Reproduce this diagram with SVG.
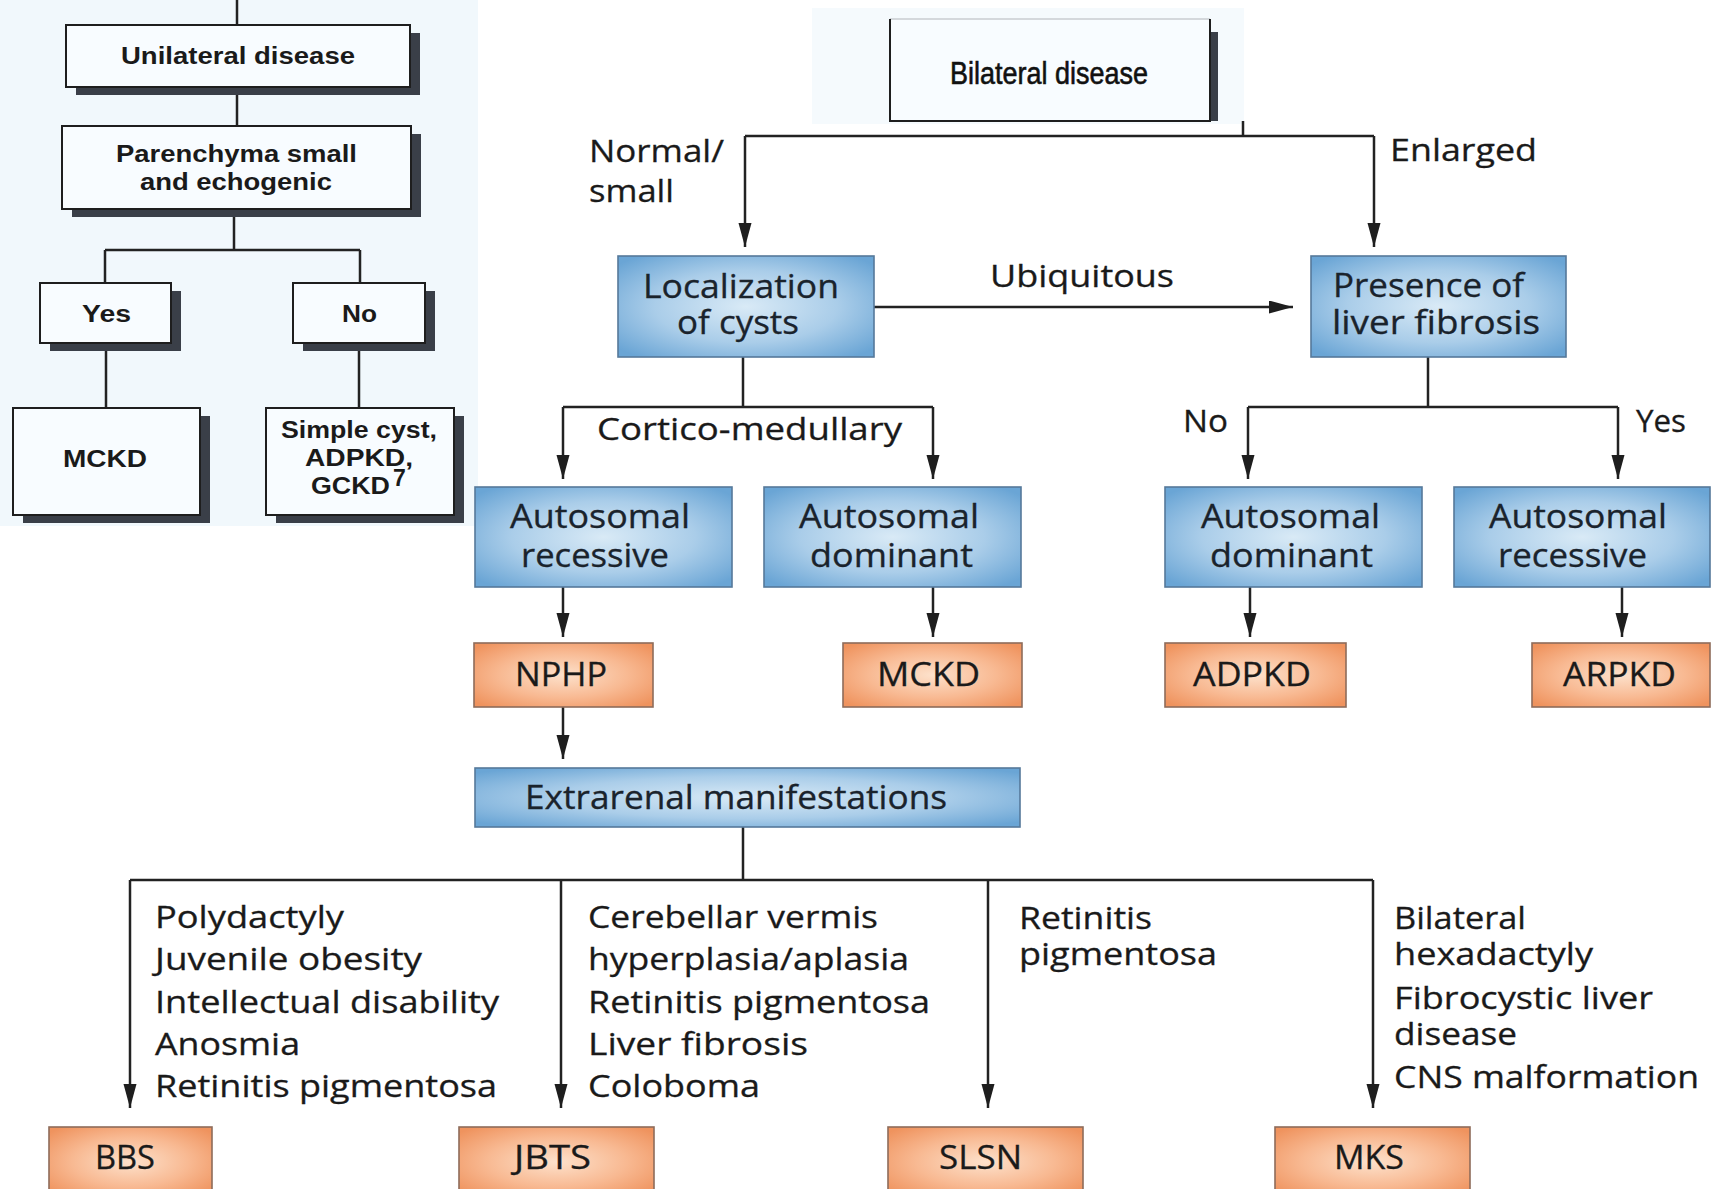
<svg xmlns="http://www.w3.org/2000/svg" width="1719" height="1189" viewBox="0 0 1719 1189">
  <defs>
    <radialGradient id="gBlue" cx="50%" cy="50%" r="65%">
      <stop offset="0%" stop-color="#d9eaf6"/>
      <stop offset="55%" stop-color="#aacde9"/>
      <stop offset="100%" stop-color="#6aa5d5"/>
    </radialGradient>
    <radialGradient id="gOrange" cx="50%" cy="50%" r="65%">
      <stop offset="0%" stop-color="#fde1cb"/>
      <stop offset="55%" stop-color="#f8b992"/>
      <stop offset="100%" stop-color="#ef935e"/>
    </radialGradient>
    <marker id="arrow" markerUnits="userSpaceOnUse" markerWidth="26" markerHeight="14" refX="24" refY="6.5" orient="auto">
      <path d="M0,0 L24,6.5 L0,13 Z" fill="#1e1e1e"/>
    </marker>
    <style>
      .bg { fill: #ffffff; }
      .panel { fill: #f1f8fc; }
      .wbox { fill: #f8fcff; stroke: #1e1e1e; stroke-width: 2; }
      .shadow { fill: #3a3f48; }
      .blue { fill: url(#gBlue); stroke: #56799a; stroke-width: 1.6; }
      .orange { fill: url(#gOrange); stroke: #8e6c5a; stroke-width: 1.6; }
      .ln { fill: none; stroke: #222222; stroke-width: 2.5; }
      .arr { fill: none; stroke: #222222; stroke-width: 2.5; marker-end: url(#arrow); }
      .lt { font-family: "Liberation Sans", Arial, sans-serif; font-weight: bold; font-size: 23px; fill: #1a1a1a; }
      .hd { font-family: "Liberation Sans", Arial, sans-serif; font-size: 31px; fill: #111111; stroke: #111111; stroke-width: 0.6; }
      .t { font-family: "Open Sans", "Noto Sans", sans-serif; font-size: 31px; fill: #1a1a1a; stroke: #1a1a1a; stroke-width: 0.3; }
      .bt { font-family: "Open Sans", "Noto Sans", sans-serif; font-size: 32px; fill: #1a232c; stroke: #1a232c; stroke-width: 0.3; }
      .ot { font-family: "Open Sans", "Noto Sans", sans-serif; font-size: 33px; fill: #1a1a1a; stroke: #1a1a1a; stroke-width: 0.3; }
    </style>
  </defs>

  <!-- canvas and faint panel tints -->
  <rect class="bg" x="0" y="0" width="1719" height="1189"/>
  <rect class="panel" x="0" y="0" width="478" height="526"/>
  <rect x="812" y="8" width="432" height="116" fill="#f5fafd"/>

  <!-- connectors -->
  <g id="connectors">
    <!-- unilateral branch -->
    <path class="ln" d="M237,0 V25"/>
    <path class="ln" d="M237,87 V126"/>
    <path class="ln" d="M234,209 V250 M105,250 H360 M105,250 V283 M360,250 V283"/>
    <path class="ln" d="M106,343 V408 M359,343 V408"/>

    <!-- bilateral branch -->
    <path class="ln" d="M1243,121 V136 M745,136 H1374"/>
    <path class="arr" d="M745,136 V247"/>
    <path class="arr" d="M1374,136 V247"/>
    <path class="arr" d="M874,307 H1293"/>

    <path class="ln" d="M743,357 V407 M563,407 H933"/>
    <path class="arr" d="M563,407 V479"/>
    <path class="arr" d="M933,407 V479"/>

    <path class="ln" d="M1428,357 V407 M1248,407 H1618"/>
    <path class="arr" d="M1248,407 V479"/>
    <path class="arr" d="M1618,407 V479"/>

    <path class="arr" d="M563,587 V637"/>
    <path class="arr" d="M933,587 V637"/>
    <path class="arr" d="M1250,587 V637"/>
    <path class="arr" d="M1622,587 V637"/>

    <path class="arr" d="M563,707 V759"/>

    <path class="ln" d="M743,827 V880 M130,880 H1373"/>
    <path class="arr" d="M130,880 V1108"/>
    <path class="arr" d="M561,880 V1108"/>
    <path class="arr" d="M988,880 V1108"/>
    <path class="arr" d="M1373,880 V1108"/>
  </g>

  <!-- unilateral disease tree -->
  <g id="n-unilateral">
    <rect class="shadow" x="76" y="33" width="344" height="62"/>
    <rect class="wbox" x="66" y="25" width="344" height="62"/>
    <text class="lt" x="121" y="64" textLength="234" lengthAdjust="spacingAndGlyphs">Unilateral disease</text>
  </g>
  <g id="n-parenchyma">
    <rect class="shadow" x="72" y="134" width="349" height="83"/>
    <rect class="wbox" x="62" y="126" width="349" height="83"/>
    <text class="lt" x="116" y="162" textLength="241" lengthAdjust="spacingAndGlyphs">Parenchyma small</text>
    <text class="lt" x="140" y="190" textLength="192" lengthAdjust="spacingAndGlyphs">and echogenic</text>
  </g>
  <g id="n-yes">
    <rect class="shadow" x="50" y="291" width="131" height="60"/>
    <rect class="wbox" x="40" y="283" width="131" height="60"/>
    <text class="lt" x="82" y="322" textLength="49" lengthAdjust="spacingAndGlyphs">Yes</text>
  </g>
  <g id="n-no">
    <rect class="shadow" x="303" y="291" width="132" height="60"/>
    <rect class="wbox" x="293" y="283" width="132" height="60"/>
    <text class="lt" x="342" y="322" textLength="35" lengthAdjust="spacingAndGlyphs">No</text>
  </g>
  <g id="n-mckd-uni">
    <rect class="shadow" x="23" y="416" width="187" height="107"/>
    <rect class="wbox" x="13" y="408" width="187" height="107"/>
    <text class="lt" x="63" y="467" textLength="84" lengthAdjust="spacingAndGlyphs">MCKD</text>
  </g>
  <g id="n-simple">
    <rect class="shadow" x="276" y="416" width="188" height="107"/>
    <rect class="wbox" x="266" y="408" width="188" height="107"/>
    <text class="lt" x="281" y="438" textLength="156" lengthAdjust="spacingAndGlyphs">Simple cyst,</text>
    <text class="lt" x="305" y="466" textLength="108" lengthAdjust="spacingAndGlyphs">ADPKD,</text>
    <text class="lt" x="311" y="494" textLength="79" lengthAdjust="spacingAndGlyphs">GCKD</text>
    <text class="lt" x="393" y="486" font-size="14">7</text>
  </g>

  <!-- bilateral disease tree -->
  <g id="n-bilateral">
    <rect class="shadow" x="1208" y="32" width="10" height="89"/>
    <rect x="890" y="19" width="320" height="102" fill="#f8fcff"/>
    <path d="M890,19 H1210" stroke="#c8ccd0" stroke-width="1.5" fill="none"/>
    <path d="M890,19 V121 H1210 V19" stroke="#1e1e1e" stroke-width="2" fill="none"/>
    <text class="hd" x="950" y="84" textLength="198" lengthAdjust="spacingAndGlyphs">Bilateral disease</text>
  </g>

  <g id="edge-labels">
    <text class="t" x="589" y="162" textLength="135" lengthAdjust="spacingAndGlyphs">Normal/</text>
    <text class="t" x="589" y="202" textLength="85" lengthAdjust="spacingAndGlyphs">small</text>
    <text class="t" x="1390" y="161" textLength="147" lengthAdjust="spacingAndGlyphs">Enlarged</text>
    <text class="t" x="990" y="287" textLength="184" lengthAdjust="spacingAndGlyphs">Ubiquitous</text>
    <text class="t" x="597" y="440" textLength="305" lengthAdjust="spacingAndGlyphs">Cortico-medullary</text>
    <text class="t" x="1183" y="432" textLength="45" lengthAdjust="spacingAndGlyphs">No</text>
    <text class="t" x="1636" y="432" textLength="50" lengthAdjust="spacingAndGlyphs">Yes</text>
  </g>

  <g id="n-localization">
    <rect class="blue" x="618" y="256" width="256" height="101"/>
    <text class="bt" x="643" y="298" textLength="196" lengthAdjust="spacingAndGlyphs">Localization</text>
    <text class="bt" x="677" y="334" textLength="122" lengthAdjust="spacingAndGlyphs">of cysts</text>
  </g>
  <g id="n-liver">
    <rect class="blue" x="1311" y="256" width="255" height="101"/>
    <text class="bt" x="1333" y="297" textLength="191" lengthAdjust="spacingAndGlyphs">Presence of</text>
    <text class="bt" x="1332" y="334" textLength="208" lengthAdjust="spacingAndGlyphs">liver fibrosis</text>
  </g>

  <g id="n-ar-left">
    <rect class="blue" x="475" y="487" width="257" height="100"/>
    <text class="bt" x="510" y="528" textLength="180" lengthAdjust="spacingAndGlyphs">Autosomal</text>
    <text class="bt" x="521" y="567" textLength="148" lengthAdjust="spacingAndGlyphs">recessive</text>
  </g>
  <g id="n-ad-left">
    <rect class="blue" x="764" y="487" width="257" height="100"/>
    <text class="bt" x="799" y="528" textLength="180" lengthAdjust="spacingAndGlyphs">Autosomal</text>
    <text class="bt" x="810" y="567" textLength="163" lengthAdjust="spacingAndGlyphs">dominant</text>
  </g>
  <g id="n-ad-right">
    <rect class="blue" x="1165" y="487" width="257" height="100"/>
    <text class="bt" x="1201" y="528" textLength="179" lengthAdjust="spacingAndGlyphs">Autosomal</text>
    <text class="bt" x="1210" y="567" textLength="163" lengthAdjust="spacingAndGlyphs">dominant</text>
  </g>
  <g id="n-ar-right">
    <rect class="blue" x="1454" y="487" width="256" height="100"/>
    <text class="bt" x="1489" y="528" textLength="178" lengthAdjust="spacingAndGlyphs">Autosomal</text>
    <text class="bt" x="1498" y="567" textLength="149" lengthAdjust="spacingAndGlyphs">recessive</text>
  </g>

  <g id="n-nphp">
    <rect class="orange" x="474" y="643" width="179" height="64"/>
    <text class="ot" x="515" y="686" textLength="92" lengthAdjust="spacingAndGlyphs">NPHP</text>
  </g>
  <g id="n-mckd">
    <rect class="orange" x="843" y="643" width="179" height="64"/>
    <text class="ot" x="877" y="686" textLength="103" lengthAdjust="spacingAndGlyphs">MCKD</text>
  </g>
  <g id="n-adpkd">
    <rect class="orange" x="1165" y="643" width="181" height="64"/>
    <text class="ot" x="1193" y="686" textLength="118" lengthAdjust="spacingAndGlyphs">ADPKD</text>
  </g>
  <g id="n-arpkd">
    <rect class="orange" x="1532" y="643" width="178" height="64"/>
    <text class="ot" x="1563" y="686" textLength="113" lengthAdjust="spacingAndGlyphs">ARPKD</text>
  </g>

  <g id="n-extrarenal">
    <rect class="blue" x="475" y="768" width="545" height="59"/>
    <text class="bt" x="525" y="809" textLength="422" lengthAdjust="spacingAndGlyphs">Extrarenal manifestations</text>
  </g>

  <!-- feature lists along the four branches -->
  <g id="list-bbs">
    <text class="t" x="155" y="928" textLength="189" lengthAdjust="spacingAndGlyphs">Polydactyly</text>
    <text class="t" x="155" y="970" textLength="267" lengthAdjust="spacingAndGlyphs">Juvenile obesity</text>
    <text class="t" x="155" y="1013" textLength="344" lengthAdjust="spacingAndGlyphs">Intellectual disability</text>
    <text class="t" x="155" y="1055" textLength="145" lengthAdjust="spacingAndGlyphs">Anosmia</text>
    <text class="t" x="155" y="1097" textLength="342" lengthAdjust="spacingAndGlyphs">Retinitis pigmentosa</text>
  </g>
  <g id="list-jbts">
    <text class="t" x="588" y="928" textLength="290" lengthAdjust="spacingAndGlyphs">Cerebellar vermis</text>
    <text class="t" x="588" y="970" textLength="321" lengthAdjust="spacingAndGlyphs">hyperplasia/aplasia</text>
    <text class="t" x="588" y="1013" textLength="342" lengthAdjust="spacingAndGlyphs">Retinitis pigmentosa</text>
    <text class="t" x="588" y="1055" textLength="220" lengthAdjust="spacingAndGlyphs">Liver fibrosis</text>
    <text class="t" x="588" y="1097" textLength="172" lengthAdjust="spacingAndGlyphs">Coloboma</text>
  </g>
  <g id="list-slsn">
    <text class="t" x="1019" y="929" textLength="133" lengthAdjust="spacingAndGlyphs">Retinitis</text>
    <text class="t" x="1019" y="965" textLength="198" lengthAdjust="spacingAndGlyphs">pigmentosa</text>
  </g>
  <g id="list-mks">
    <text class="t" x="1394" y="929" textLength="132" lengthAdjust="spacingAndGlyphs">Bilateral</text>
    <text class="t" x="1394" y="965" textLength="199" lengthAdjust="spacingAndGlyphs">hexadactyly</text>
    <text class="t" x="1394" y="1009" textLength="259" lengthAdjust="spacingAndGlyphs">Fibrocystic liver</text>
    <text class="t" x="1394" y="1045" textLength="123" lengthAdjust="spacingAndGlyphs">disease</text>
    <text class="t" x="1394" y="1088" textLength="305" lengthAdjust="spacingAndGlyphs">CNS malformation</text>
  </g>

  <g id="n-bbs">
    <rect class="orange" x="49" y="1127" width="163" height="70"/>
    <text class="ot" x="95" y="1169" textLength="60" lengthAdjust="spacingAndGlyphs">BBS</text>
  </g>
  <g id="n-jbts">
    <rect class="orange" x="459" y="1127" width="195" height="70"/>
    <text class="ot" x="514" y="1169" textLength="77" lengthAdjust="spacingAndGlyphs">JBTS</text>
  </g>
  <g id="n-slsn">
    <rect class="orange" x="888" y="1127" width="195" height="70"/>
    <text class="ot" x="939" y="1169" textLength="83" lengthAdjust="spacingAndGlyphs">SLSN</text>
  </g>
  <g id="n-mks">
    <rect class="orange" x="1275" y="1127" width="195" height="70"/>
    <text class="ot" x="1334" y="1169" textLength="70" lengthAdjust="spacingAndGlyphs">MKS</text>
  </g>
</svg>
